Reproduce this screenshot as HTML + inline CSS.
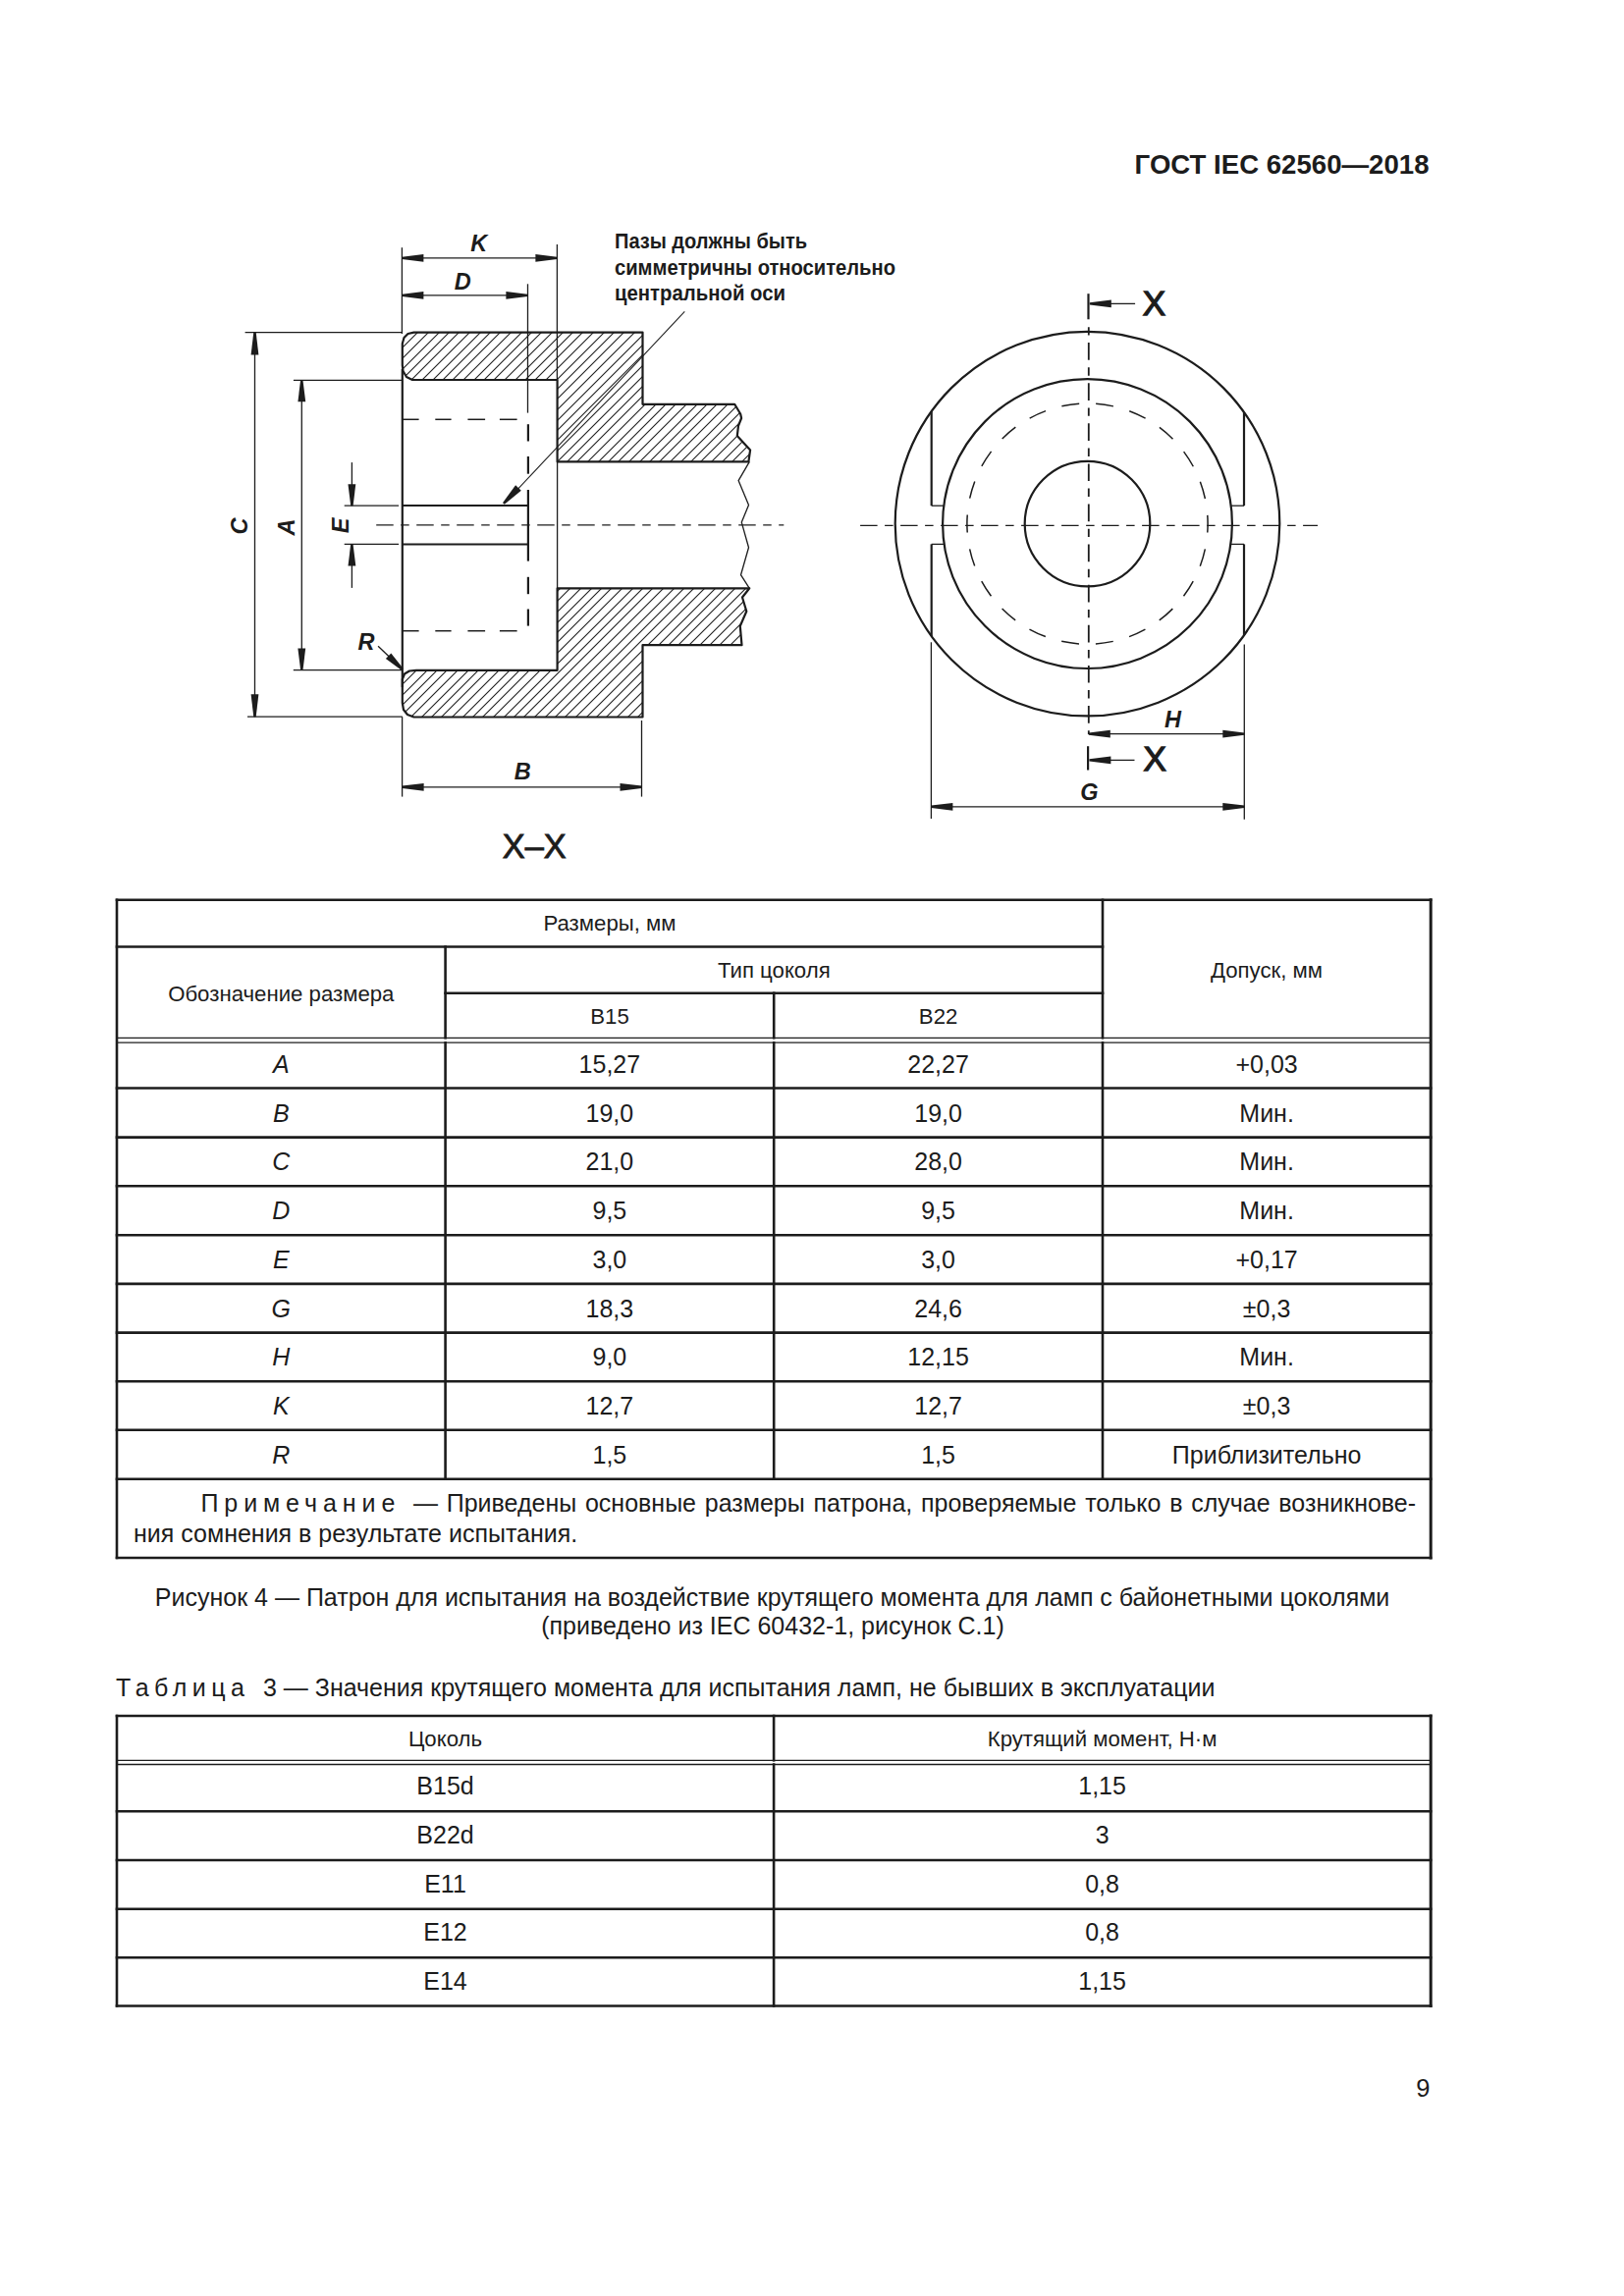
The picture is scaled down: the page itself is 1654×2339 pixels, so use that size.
<!DOCTYPE html>
<html><head><meta charset="utf-8"><style>
html,body{margin:0;padding:0;background:#fff;overflow:hidden;}
svg{display:block;}
text{font-family:"Liberation Sans",sans-serif;fill:#1c1c1c;}
.b{font-weight:bold;}
</style></head><body>
<svg width="1654" height="2339" viewBox="0 0 1654 2339">
<rect width="1654" height="2339" fill="#fff"/>
<text x="1455.5" y="176.8" text-anchor="end" class="b" font-size="27.6">ГОСТ IEC 62560—2018</text>
<text x="1456.5" y="2136" text-anchor="end" font-size="25.5">9</text>
<g stroke="#1c1c1c" stroke-linecap="square">
<line x1="119" y1="916.8" x2="1457.2" y2="916.8" stroke-width="2.6"/>
<line x1="119" y1="964.5" x2="1123" y2="964.5" stroke-width="2.6"/>
<line x1="453.6" y1="1011.7" x2="1123" y2="1011.7" stroke-width="2.6"/>
<line x1="119" y1="1057.3" x2="1457.2" y2="1057.3" stroke-width="1.3"/>
<line x1="119" y1="1062.2" x2="1457.2" y2="1062.2" stroke-width="1.3"/>
<line x1="119" y1="1108.5" x2="1457.2" y2="1108.5" stroke-width="2.6"/>
<line x1="119" y1="1158.6" x2="1457.2" y2="1158.6" stroke-width="2.6"/>
<line x1="119" y1="1208.3" x2="1457.2" y2="1208.3" stroke-width="2.6"/>
<line x1="119" y1="1258.2" x2="1457.2" y2="1258.2" stroke-width="2.6"/>
<line x1="119" y1="1307.9" x2="1457.2" y2="1307.9" stroke-width="2.6"/>
<line x1="119" y1="1357.6" x2="1457.2" y2="1357.6" stroke-width="2.6"/>
<line x1="119" y1="1407.2" x2="1457.2" y2="1407.2" stroke-width="2.6"/>
<line x1="119" y1="1456.8" x2="1457.2" y2="1456.8" stroke-width="2.6"/>
<line x1="119" y1="1506.7" x2="1457.2" y2="1506.7" stroke-width="2.6"/>
<line x1="119" y1="1587" x2="1457.2" y2="1587" stroke-width="2.6"/>
<line x1="119" y1="916.8" x2="119" y2="1587" stroke-width="2.6"/>
<line x1="1457.2" y1="916.8" x2="1457.2" y2="1587" stroke-width="3"/>
<line x1="453.6" y1="964.5" x2="453.6" y2="1057.3" stroke-width="2.6"/>
<line x1="788.2" y1="1011.7" x2="788.2" y2="1057.3" stroke-width="2.6"/>
<line x1="1123" y1="916.8" x2="1123" y2="1057.3" stroke-width="2.6"/>
<line x1="453.6" y1="1062.2" x2="453.6" y2="1506.7" stroke-width="2.6"/>
<line x1="788.2" y1="1062.2" x2="788.2" y2="1506.7" stroke-width="2.6"/>
<line x1="1123" y1="1062.2" x2="1123" y2="1506.7" stroke-width="2.6"/>
</g>
<text x="621" y="947.8" text-anchor="middle" font-size="22.2">Размеры, мм</text>
<text x="286.3" y="1020" text-anchor="middle" font-size="22.2">Обозначение размера</text>
<text x="788.3" y="996" text-anchor="middle" font-size="22.2">Тип цоколя</text>
<text x="621" y="1042.9" text-anchor="middle" font-size="22.2">B15</text>
<text x="955.6" y="1042.9" text-anchor="middle" font-size="22.2">B22</text>
<text x="1290" y="996" text-anchor="middle" font-size="22.2">Допуск, мм</text>
<text x="286.3" y="1092.7" text-anchor="middle" font-size="25" font-style="italic">A</text>
<text x="620.9000000000001" y="1092.7" text-anchor="middle" font-size="25">15,27</text>
<text x="955.6" y="1092.7" text-anchor="middle" font-size="25">22,27</text>
<text x="1290.1" y="1092.7" text-anchor="middle" font-size="25">+0,03</text>
<text x="286.3" y="1142.5" text-anchor="middle" font-size="25" font-style="italic">B</text>
<text x="620.9000000000001" y="1142.5" text-anchor="middle" font-size="25">19,0</text>
<text x="955.6" y="1142.5" text-anchor="middle" font-size="25">19,0</text>
<text x="1290.1" y="1142.5" text-anchor="middle" font-size="25">Мин.</text>
<text x="286.3" y="1192.2" text-anchor="middle" font-size="25" font-style="italic">C</text>
<text x="620.9000000000001" y="1192.2" text-anchor="middle" font-size="25">21,0</text>
<text x="955.6" y="1192.2" text-anchor="middle" font-size="25">28,0</text>
<text x="1290.1" y="1192.2" text-anchor="middle" font-size="25">Мин.</text>
<text x="286.3" y="1242.0" text-anchor="middle" font-size="25" font-style="italic">D</text>
<text x="620.9000000000001" y="1242.0" text-anchor="middle" font-size="25">9,5</text>
<text x="955.6" y="1242.0" text-anchor="middle" font-size="25">9,5</text>
<text x="1290.1" y="1242.0" text-anchor="middle" font-size="25">Мин.</text>
<text x="286.3" y="1291.7" text-anchor="middle" font-size="25" font-style="italic">E</text>
<text x="620.9000000000001" y="1291.7" text-anchor="middle" font-size="25">3,0</text>
<text x="955.6" y="1291.7" text-anchor="middle" font-size="25">3,0</text>
<text x="1290.1" y="1291.7" text-anchor="middle" font-size="25">+0,17</text>
<text x="286.3" y="1341.5" text-anchor="middle" font-size="25" font-style="italic">G</text>
<text x="620.9000000000001" y="1341.5" text-anchor="middle" font-size="25">18,3</text>
<text x="955.6" y="1341.5" text-anchor="middle" font-size="25">24,6</text>
<text x="1290.1" y="1341.5" text-anchor="middle" font-size="25">±0,3</text>
<text x="286.3" y="1391.2" text-anchor="middle" font-size="25" font-style="italic">H</text>
<text x="620.9000000000001" y="1391.2" text-anchor="middle" font-size="25">9,0</text>
<text x="955.6" y="1391.2" text-anchor="middle" font-size="25">12,15</text>
<text x="1290.1" y="1391.2" text-anchor="middle" font-size="25">Мин.</text>
<text x="286.3" y="1441.0" text-anchor="middle" font-size="25" font-style="italic">K</text>
<text x="620.9000000000001" y="1441.0" text-anchor="middle" font-size="25">12,7</text>
<text x="955.6" y="1441.0" text-anchor="middle" font-size="25">12,7</text>
<text x="1290.1" y="1441.0" text-anchor="middle" font-size="25">±0,3</text>
<text x="286.3" y="1490.7" text-anchor="middle" font-size="25" font-style="italic">R</text>
<text x="620.9000000000001" y="1490.7" text-anchor="middle" font-size="25">1,5</text>
<text x="955.6" y="1490.7" text-anchor="middle" font-size="25">1,5</text>
<text x="1290.1" y="1490.7" text-anchor="middle" font-size="25">Приблизительно</text>
<text x="204.5" y="1540" font-size="25" letter-spacing="5.9">Примечание</text>
<text x="421" y="1540" font-size="25" word-spacing="1.8">— Приведены основные размеры патрона, проверяемые только в случае возникнове-</text>
<text x="136" y="1570.7" font-size="25">ния сомнения в результате испытания.</text>
<text x="786.6" y="1635.5" text-anchor="middle" font-size="25">Рисунок 4 — Патрон для испытания на воздействие крутящего момента для ламп с байонетными цоколями</text>
<text x="787" y="1665" text-anchor="middle" font-size="25">(приведено из IEC 60432-1, рисунок С.1)</text>
<text x="118" y="1727.6" font-size="25" letter-spacing="5.5">Таблица</text>
<text x="268" y="1727.6" font-size="25">3 — Значения крутящего момента для испытания ламп, не бывших в эксплуатации</text>
<g stroke="#1c1c1c" stroke-linecap="square">
<line x1="119" y1="1748" x2="1457.2" y2="1748" stroke-width="2.6"/>
<line x1="119" y1="1793.3" x2="1457.2" y2="1793.3" stroke-width="1.3"/>
<line x1="119" y1="1797.5" x2="1457.2" y2="1797.5" stroke-width="1.3"/>
<line x1="119" y1="1845.3" x2="1457.2" y2="1845.3" stroke-width="2.6"/>
<line x1="119" y1="1895" x2="1457.2" y2="1895" stroke-width="2.6"/>
<line x1="119" y1="1944.7" x2="1457.2" y2="1944.7" stroke-width="2.6"/>
<line x1="119" y1="1994.3" x2="1457.2" y2="1994.3" stroke-width="2.6"/>
<line x1="119" y1="2043.5" x2="1457.2" y2="2043.5" stroke-width="2.6"/>
<line x1="119" y1="1748" x2="119" y2="2043.5" stroke-width="2.6"/>
<line x1="1457.2" y1="1748" x2="1457.2" y2="2043.5" stroke-width="3"/>
<line x1="788.1" y1="1748" x2="788.1" y2="1793.3" stroke-width="2.6"/>
<line x1="788.1" y1="1797.5" x2="788.1" y2="2043.5" stroke-width="2.6"/>
</g>
<text x="453.5" y="1778.6" text-anchor="middle" font-size="22.2">Цоколь</text>
<text x="1122.6" y="1778.6" text-anchor="middle" font-size="22.2">Крутящий момент, Н·м</text>
<text x="453.5" y="1828.4" text-anchor="middle" font-size="25">B15d</text>
<text x="1122.6" y="1828.4" text-anchor="middle" font-size="25">1,15</text>
<text x="453.5" y="1878.0" text-anchor="middle" font-size="25">B22d</text>
<text x="1122.6" y="1878.0" text-anchor="middle" font-size="25">3</text>
<text x="453.5" y="1927.6" text-anchor="middle" font-size="25">E11</text>
<text x="1122.6" y="1927.6" text-anchor="middle" font-size="25">0,8</text>
<text x="453.5" y="1977.2" text-anchor="middle" font-size="25">E12</text>
<text x="1122.6" y="1977.2" text-anchor="middle" font-size="25">0,8</text>
<text x="453.5" y="2026.8" text-anchor="middle" font-size="25">E14</text>
<text x="1122.6" y="2026.8" text-anchor="middle" font-size="25">1,15</text>
<defs><clipPath id="cu"><path d="M421.5,338.6 L654.5,338.6 L654.5,411.8 L748.2,411.8 L754.2,421.7 L755.1,426.0 L752.0,433.8 L750.8,444.1 L764.1,458.4 L763.3,464.0 L762.4,470.4 L567.6,470.4 L567.6,387.0 L420.0,387.0 L414.0,384.0 L410.5,378.0 L409.8,372.0 L409.8,350.0 L411.5,344.0 L415.5,340.0 Z"/></clipPath><clipPath id="cl"><path d="M424.0,682.8 L567.6,682.8 L567.6,599.3 L763.3,599.3 L756.0,608.5 L760.3,622.8 L753.8,637.8 L755.5,657.2 L654.5,657.2 L654.5,730.5 L421.5,730.5 L415.0,728.0 L411.0,723.0 L409.8,716.0 L409.8,692.0 L412.0,686.5 L417.0,683.5 Z"/></clipPath></defs>
<g clip-path="url(#cu)" stroke="#1c1c1c" stroke-width="1.1"><line x1="441.0" y1="250.0" x2="-109.0" y2="800.0" stroke-width="1.1" /><line x1="452.0" y1="250.0" x2="-98.0" y2="800.0" stroke-width="1.1" /><line x1="462.0" y1="250.0" x2="-88.0" y2="800.0" stroke-width="1.1" /><line x1="472.0" y1="250.0" x2="-78.0" y2="800.0" stroke-width="1.1" /><line x1="483.0" y1="250.0" x2="-67.0" y2="800.0" stroke-width="1.1" /><line x1="494.0" y1="250.0" x2="-56.0" y2="800.0" stroke-width="1.1" /><line x1="504.0" y1="250.0" x2="-46.0" y2="800.0" stroke-width="1.1" /><line x1="514.0" y1="250.0" x2="-36.0" y2="800.0" stroke-width="1.1" /><line x1="525.0" y1="250.0" x2="-25.0" y2="800.0" stroke-width="1.1" /><line x1="536.0" y1="250.0" x2="-14.0" y2="800.0" stroke-width="1.1" /><line x1="546.0" y1="250.0" x2="-4.0" y2="800.0" stroke-width="1.1" /><line x1="556.0" y1="250.0" x2="6.0" y2="800.0" stroke-width="1.1" /><line x1="567.0" y1="250.0" x2="17.0" y2="800.0" stroke-width="1.1" /><line x1="578.0" y1="250.0" x2="28.0" y2="800.0" stroke-width="1.1" /><line x1="588.0" y1="250.0" x2="38.0" y2="800.0" stroke-width="1.1" /><line x1="598.0" y1="250.0" x2="48.0" y2="800.0" stroke-width="1.1" /><line x1="609.0" y1="250.0" x2="59.0" y2="800.0" stroke-width="1.1" /><line x1="620.0" y1="250.0" x2="70.0" y2="800.0" stroke-width="1.1" /><line x1="630.0" y1="250.0" x2="80.0" y2="800.0" stroke-width="1.1" /><line x1="640.0" y1="250.0" x2="90.0" y2="800.0" stroke-width="1.1" /><line x1="651.0" y1="250.0" x2="101.0" y2="800.0" stroke-width="1.1" /><line x1="662.0" y1="250.0" x2="112.0" y2="800.0" stroke-width="1.1" /><line x1="672.0" y1="250.0" x2="122.0" y2="800.0" stroke-width="1.1" /><line x1="682.0" y1="250.0" x2="132.0" y2="800.0" stroke-width="1.1" /><line x1="693.0" y1="250.0" x2="143.0" y2="800.0" stroke-width="1.1" /><line x1="704.0" y1="250.0" x2="154.0" y2="800.0" stroke-width="1.1" /><line x1="714.0" y1="250.0" x2="164.0" y2="800.0" stroke-width="1.1" /><line x1="724.0" y1="250.0" x2="174.0" y2="800.0" stroke-width="1.1" /><line x1="735.0" y1="250.0" x2="185.0" y2="800.0" stroke-width="1.1" /><line x1="746.0" y1="250.0" x2="196.0" y2="800.0" stroke-width="1.1" /><line x1="756.0" y1="250.0" x2="206.0" y2="800.0" stroke-width="1.1" /><line x1="766.0" y1="250.0" x2="216.0" y2="800.0" stroke-width="1.1" /><line x1="777.0" y1="250.0" x2="227.0" y2="800.0" stroke-width="1.1" /><line x1="788.0" y1="250.0" x2="238.0" y2="800.0" stroke-width="1.1" /><line x1="798.0" y1="250.0" x2="248.0" y2="800.0" stroke-width="1.1" /><line x1="808.0" y1="250.0" x2="258.0" y2="800.0" stroke-width="1.1" /><line x1="819.0" y1="250.0" x2="269.0" y2="800.0" stroke-width="1.1" /><line x1="830.0" y1="250.0" x2="280.0" y2="800.0" stroke-width="1.1" /><line x1="840.0" y1="250.0" x2="290.0" y2="800.0" stroke-width="1.1" /><line x1="850.0" y1="250.0" x2="300.0" y2="800.0" stroke-width="1.1" /><line x1="861.0" y1="250.0" x2="311.0" y2="800.0" stroke-width="1.1" /><line x1="872.0" y1="250.0" x2="322.0" y2="800.0" stroke-width="1.1" /><line x1="882.0" y1="250.0" x2="332.0" y2="800.0" stroke-width="1.1" /><line x1="892.0" y1="250.0" x2="342.0" y2="800.0" stroke-width="1.1" /><line x1="903.0" y1="250.0" x2="353.0" y2="800.0" stroke-width="1.1" /><line x1="914.0" y1="250.0" x2="364.0" y2="800.0" stroke-width="1.1" /><line x1="924.0" y1="250.0" x2="374.0" y2="800.0" stroke-width="1.1" /><line x1="934.0" y1="250.0" x2="384.0" y2="800.0" stroke-width="1.1" /><line x1="945.0" y1="250.0" x2="395.0" y2="800.0" stroke-width="1.1" /><line x1="956.0" y1="250.0" x2="406.0" y2="800.0" stroke-width="1.1" /><line x1="966.0" y1="250.0" x2="416.0" y2="800.0" stroke-width="1.1" /><line x1="976.0" y1="250.0" x2="426.0" y2="800.0" stroke-width="1.1" /><line x1="987.0" y1="250.0" x2="437.0" y2="800.0" stroke-width="1.1" /><line x1="998.0" y1="250.0" x2="448.0" y2="800.0" stroke-width="1.1" /></g>
<g clip-path="url(#cl)" stroke="#1c1c1c" stroke-width="1.1"><line x1="826.0" y1="250.0" x2="276.0" y2="800.0" stroke-width="1.1" /><line x1="836.0" y1="250.0" x2="286.0" y2="800.0" stroke-width="1.1" /><line x1="846.0" y1="250.0" x2="296.0" y2="800.0" stroke-width="1.1" /><line x1="857.0" y1="250.0" x2="307.0" y2="800.0" stroke-width="1.1" /><line x1="868.0" y1="250.0" x2="318.0" y2="800.0" stroke-width="1.1" /><line x1="878.0" y1="250.0" x2="328.0" y2="800.0" stroke-width="1.1" /><line x1="888.0" y1="250.0" x2="338.0" y2="800.0" stroke-width="1.1" /><line x1="899.0" y1="250.0" x2="349.0" y2="800.0" stroke-width="1.1" /><line x1="910.0" y1="250.0" x2="360.0" y2="800.0" stroke-width="1.1" /><line x1="920.0" y1="250.0" x2="370.0" y2="800.0" stroke-width="1.1" /><line x1="930.0" y1="250.0" x2="380.0" y2="800.0" stroke-width="1.1" /><line x1="941.0" y1="250.0" x2="391.0" y2="800.0" stroke-width="1.1" /><line x1="952.0" y1="250.0" x2="402.0" y2="800.0" stroke-width="1.1" /><line x1="962.0" y1="250.0" x2="412.0" y2="800.0" stroke-width="1.1" /><line x1="972.0" y1="250.0" x2="422.0" y2="800.0" stroke-width="1.1" /><line x1="983.0" y1="250.0" x2="433.0" y2="800.0" stroke-width="1.1" /><line x1="994.0" y1="250.0" x2="444.0" y2="800.0" stroke-width="1.1" /><line x1="1004.0" y1="250.0" x2="454.0" y2="800.0" stroke-width="1.1" /><line x1="1014.0" y1="250.0" x2="464.0" y2="800.0" stroke-width="1.1" /><line x1="1025.0" y1="250.0" x2="475.0" y2="800.0" stroke-width="1.1" /><line x1="1036.0" y1="250.0" x2="486.0" y2="800.0" stroke-width="1.1" /><line x1="1046.0" y1="250.0" x2="496.0" y2="800.0" stroke-width="1.1" /><line x1="1056.0" y1="250.0" x2="506.0" y2="800.0" stroke-width="1.1" /><line x1="1067.0" y1="250.0" x2="517.0" y2="800.0" stroke-width="1.1" /><line x1="1078.0" y1="250.0" x2="528.0" y2="800.0" stroke-width="1.1" /><line x1="1088.0" y1="250.0" x2="538.0" y2="800.0" stroke-width="1.1" /><line x1="1098.0" y1="250.0" x2="548.0" y2="800.0" stroke-width="1.1" /><line x1="1109.0" y1="250.0" x2="559.0" y2="800.0" stroke-width="1.1" /><line x1="1120.0" y1="250.0" x2="570.0" y2="800.0" stroke-width="1.1" /><line x1="1130.0" y1="250.0" x2="580.0" y2="800.0" stroke-width="1.1" /><line x1="1140.0" y1="250.0" x2="590.0" y2="800.0" stroke-width="1.1" /><line x1="1151.0" y1="250.0" x2="601.0" y2="800.0" stroke-width="1.1" /><line x1="1162.0" y1="250.0" x2="612.0" y2="800.0" stroke-width="1.1" /><line x1="1172.0" y1="250.0" x2="622.0" y2="800.0" stroke-width="1.1" /><line x1="1182.0" y1="250.0" x2="632.0" y2="800.0" stroke-width="1.1" /><line x1="1193.0" y1="250.0" x2="643.0" y2="800.0" stroke-width="1.1" /><line x1="1204.0" y1="250.0" x2="654.0" y2="800.0" stroke-width="1.1" /><line x1="1214.0" y1="250.0" x2="664.0" y2="800.0" stroke-width="1.1" /><line x1="1224.0" y1="250.0" x2="674.0" y2="800.0" stroke-width="1.1" /><line x1="1235.0" y1="250.0" x2="685.0" y2="800.0" stroke-width="1.1" /><line x1="1246.0" y1="250.0" x2="696.0" y2="800.0" stroke-width="1.1" /></g>
<g stroke="#1c1c1c" fill="none" stroke-linecap="butt">
<path d="M421.5,338.6 L654.5,338.6 L654.5,411.8 L748.2,411.8 L754.2,421.7 L755.1,426.0 L752.0,433.8 L750.8,444.1 L764.1,458.4 L763.3,464.0 L762.4,470.4 L567.6,470.4 L567.6,387.0 L420.0,387.0 L414.0,384.0 L410.5,378.0 L409.8,372.0 L409.8,350.0 L411.5,344.0 L415.5,340.0 Z" stroke-width="2.2" fill="none" stroke-linejoin="round"/>
<path d="M424.0,682.8 L567.6,682.8 L567.6,599.3 L763.3,599.3 L756.0,608.5 L760.3,622.8 L753.8,637.8 L755.5,657.2 L654.5,657.2 L654.5,730.5 L421.5,730.5 L415.0,728.0 L411.0,723.0 L409.8,716.0 L409.8,692.0 L412.0,686.5 L417.0,683.5 Z" stroke-width="2.2" fill="none" stroke-linejoin="round"/>
<line x1="409.8" y1="376.0" x2="409.8" y2="700.0" stroke-width="2.2" />
<line x1="409.8" y1="515.0" x2="538.0" y2="515.0" stroke-width="2.2" />
<line x1="409.8" y1="554.5" x2="538.0" y2="554.5" stroke-width="2.2" />
<line x1="567.4" y1="249.0" x2="567.4" y2="387.0" stroke-width="1.3" />
<line x1="567.6" y1="470.4" x2="567.6" y2="599.3" stroke-width="1.3" />
<line x1="537.9" y1="432.2" x2="537.9" y2="449.5" stroke-width="2.2" />
<line x1="537.9" y1="465.0" x2="537.9" y2="482.7" stroke-width="2.2" />
<line x1="537.9" y1="499.0" x2="537.9" y2="571.6" stroke-width="2.2" />
<line x1="537.9" y1="587.8" x2="537.9" y2="605.2" stroke-width="2.2" />
<line x1="537.9" y1="620.5" x2="537.9" y2="637.6" stroke-width="2.2" />
<line x1="409.9" y1="427.3" x2="426.6" y2="427.3" stroke-width="1.5" />
<line x1="443.3" y1="427.3" x2="459.6" y2="427.3" stroke-width="1.5" />
<line x1="476.4" y1="427.3" x2="494.1" y2="427.3" stroke-width="1.5" />
<line x1="508.9" y1="427.3" x2="526.6" y2="427.3" stroke-width="1.5" />
<line x1="409.9" y1="642.7" x2="426.6" y2="642.7" stroke-width="1.5" />
<line x1="443.3" y1="642.7" x2="459.6" y2="642.7" stroke-width="1.5" />
<line x1="476.4" y1="642.7" x2="494.1" y2="642.7" stroke-width="1.5" />
<line x1="508.9" y1="642.7" x2="526.6" y2="642.7" stroke-width="1.5" />
<path d="M763.3,470.4 L752.1,489.6 L762.5,514.4 L755.3,532.1 L762.5,557.7 L754.5,585.7 L763.3,599.3" stroke-width="1.3" fill="none" stroke-linejoin="round"/>
<line x1="383.2" y1="534.8" x2="798.3" y2="534.8" stroke-width="1.3" stroke-dasharray="17.5 7.5 8.5 7.5"/>
<line x1="409.4" y1="252.2" x2="409.4" y2="340.0" stroke-width="1.3" />
<line x1="409.4" y1="262.9" x2="567.4" y2="262.9" stroke-width="1.3" />
<line x1="409.4" y1="300.9" x2="537.4" y2="300.9" stroke-width="1.3" />
<line x1="537.5" y1="289.3" x2="537.5" y2="420.6" stroke-width="1.3" />
<line x1="249.6" y1="338.6" x2="409.8" y2="338.6" stroke-width="1.3" />
<line x1="252.0" y1="730.2" x2="409.8" y2="730.2" stroke-width="1.3" />
<line x1="259.5" y1="338.6" x2="259.5" y2="730.2" stroke-width="1.3" />
<line x1="298.9" y1="387.3" x2="409.8" y2="387.3" stroke-width="1.3" />
<line x1="298.8" y1="682.6" x2="409.8" y2="682.6" stroke-width="1.3" />
<line x1="307.3" y1="387.3" x2="307.3" y2="682.6" stroke-width="1.3" />
<line x1="350.7" y1="515.2" x2="406.1" y2="515.2" stroke-width="1.3" />
<line x1="350.7" y1="554.4" x2="406.1" y2="554.4" stroke-width="1.3" />
<line x1="358.4" y1="471.1" x2="358.4" y2="515.2" stroke-width="1.3" />
<line x1="358.4" y1="554.4" x2="358.4" y2="598.9" stroke-width="1.3" />
<line x1="409.6" y1="730.2" x2="409.6" y2="811.6" stroke-width="1.3" />
<line x1="653.5" y1="734.0" x2="653.5" y2="811.6" stroke-width="1.3" />
<line x1="409.6" y1="801.8" x2="653.5" y2="801.8" stroke-width="1.3" />
<line x1="697.3" y1="317.3" x2="527.3" y2="498.3" stroke-width="1.05" />
<line x1="385.1" y1="658.2" x2="400.0" y2="672.5" stroke-width="1.3" />
</g>
<path d="M409.4,261.7 L431.4,259.0 L431.4,266.8 L409.4,264.1 Z" fill="#1c1c1c" stroke="none"/>
<path d="M567.4,264.1 L545.4,266.8 L545.4,259.0 L567.4,261.7 Z" fill="#1c1c1c" stroke="none"/>
<path d="M409.4,299.7 L431.4,297.0 L431.4,304.8 L409.4,302.1 Z" fill="#1c1c1c" stroke="none"/>
<path d="M537.4,302.1 L515.4,304.8 L515.4,297.0 L537.4,299.7 Z" fill="#1c1c1c" stroke="none"/>
<path d="M260.7,338.6 L263.4,361.6 L255.6,361.6 L258.3,338.6 Z" fill="#1c1c1c" stroke="none"/>
<path d="M258.3,730.2 L255.6,707.2 L263.4,707.2 L260.7,730.2 Z" fill="#1c1c1c" stroke="none"/>
<path d="M308.5,387.3 L311.2,409.3 L303.4,409.3 L306.1,387.3 Z" fill="#1c1c1c" stroke="none"/>
<path d="M306.1,682.6 L303.4,660.6 L311.2,660.6 L308.5,682.6 Z" fill="#1c1c1c" stroke="none"/>
<path d="M357.2,515.2 L354.5,493.2 L362.3,493.2 L359.6,515.2 Z" fill="#1c1c1c" stroke="none"/>
<path d="M359.6,554.4 L362.3,576.4 L354.5,576.4 L357.2,554.4 Z" fill="#1c1c1c" stroke="none"/>
<path d="M409.6,800.6 L431.6,797.9 L431.6,805.7 L409.6,803.0 Z" fill="#1c1c1c" stroke="none"/>
<path d="M653.5,803.0 L631.5,805.7 L631.5,797.9 L653.5,800.6 Z" fill="#1c1c1c" stroke="none"/>
<path d="M512.0,512.2 L525.1,494.3 L530.8,499.7 L513.8,513.8 Z" fill="#1c1c1c" stroke="none"/>
<path d="M409.2,683.1 L392.9,671.1 L398.3,665.5 L410.8,681.3 Z" fill="#1c1c1c" stroke="none"/>
<g stroke="#1c1c1c" fill="none">
<circle cx="1107.5" cy="533.6" r="195.8" stroke-width="2.2"/>
<circle cx="1107.5" cy="533.6" r="147.4" stroke-width="2.2"/>
<circle cx="1107.5" cy="533.6" r="122.6" stroke-width="1.5" stroke-dasharray="18.00 17.01" stroke-dashoffset="9.00"/>
<circle cx="1107.5" cy="533.6" r="63.8" stroke-width="2.2"/>
<line x1="948.7" y1="419.1" x2="948.7" y2="515.2" stroke-width="2.2" />
<line x1="948.7" y1="554.4" x2="948.7" y2="648.1" stroke-width="2.2" />
<line x1="948.7" y1="515.2" x2="961.4" y2="515.2" stroke-width="1.3" />
<line x1="948.7" y1="554.4" x2="961.4" y2="554.4" stroke-width="1.3" />
<line x1="1267.0" y1="420.0" x2="1267.0" y2="515.2" stroke-width="2.2" />
<line x1="1267.0" y1="554.4" x2="1267.0" y2="647.2" stroke-width="2.2" />
<line x1="1267.0" y1="515.2" x2="1253.6" y2="515.2" stroke-width="1.3" />
<line x1="1267.0" y1="554.4" x2="1253.6" y2="554.4" stroke-width="1.3" />
<line x1="876.1" y1="535.3" x2="1342.0" y2="535.3" stroke-width="1.3" stroke-dasharray="17.5 7.5 8.5 7.5"/>
<line x1="1108.8" y1="333.2" x2="1108.8" y2="748.0" stroke-width="1.8" stroke-dasharray="8.4 7.5 17.7 7.5"/>
<line x1="1108.5" y1="299.2" x2="1108.5" y2="325.3" stroke-width="2.2" />
<line x1="1131.0" y1="309.4" x2="1156.1" y2="309.4" stroke-width="1.3" />
<line x1="1108.1" y1="760.2" x2="1108.1" y2="784.5" stroke-width="2.2" />
<line x1="1131.0" y1="774.4" x2="1155.5" y2="774.4" stroke-width="1.3" />
<line x1="1267.3" y1="656.5" x2="1267.3" y2="834.7" stroke-width="1.3" />
<line x1="948.4" y1="654.3" x2="948.4" y2="834.0" stroke-width="1.3" />
<line x1="1108.8" y1="747.6" x2="1267.3" y2="747.6" stroke-width="1.3" />
<line x1="948.4" y1="821.8" x2="1267.3" y2="821.8" stroke-width="1.3" />
</g>
<path d="M1109.8,308.2 L1131.8,305.5 L1131.8,313.3 L1109.8,310.6 Z" fill="#1c1c1c" stroke="none"/>
<path d="M1109.4,773.2 L1131.4,770.5 L1131.4,778.3 L1109.4,775.6 Z" fill="#1c1c1c" stroke="none"/>
<path d="M1108.8,746.4 L1130.8,743.7 L1130.8,751.5 L1108.8,748.8 Z" fill="#1c1c1c" stroke="none"/>
<path d="M1267.3,748.8 L1245.3,751.5 L1245.3,743.7 L1267.3,746.4 Z" fill="#1c1c1c" stroke="none"/>
<path d="M948.4,820.6 L970.4,817.9 L970.4,825.7 L948.4,823.0 Z" fill="#1c1c1c" stroke="none"/>
<path d="M1267.3,823.0 L1245.3,825.7 L1245.3,817.9 L1267.3,820.6 Z" fill="#1c1c1c" stroke="none"/>
<text x="487.8" y="256" text-anchor="middle" font-weight="bold" font-style="italic" font-size="23.5">K</text>
<text x="471.2" y="294.8" text-anchor="middle" font-weight="bold" font-style="italic" font-size="23.5">D</text>
<text x="532.2" y="793.9" text-anchor="middle" font-weight="bold" font-style="italic" font-size="23.5">B</text>
<text x="373.1" y="661.9" text-anchor="middle" font-weight="bold" font-style="italic" font-size="23.5">R</text>
<text x="1194.5" y="741.2" text-anchor="middle" font-weight="bold" font-style="italic" font-size="23.5">H</text>
<text x="1109.5" y="815" text-anchor="middle" font-weight="bold" font-style="italic" font-size="23.5">G</text>
<text transform="translate(252,536) rotate(-90)" text-anchor="middle" font-weight="bold" font-style="italic" font-size="23.5">C</text>
<text transform="translate(300,537) rotate(-90)" text-anchor="middle" font-weight="bold" font-style="italic" font-size="23.5">A</text>
<text transform="translate(355.1,535.4) rotate(-90)" text-anchor="middle" font-weight="bold" font-style="italic" font-size="23.5">E</text>
<text x="1175.5" y="320.9" text-anchor="middle" font-size="35" stroke="#1c1c1c" stroke-width="1.3">X</text>
<text x="1176.2" y="784.5" text-anchor="middle" font-size="35" stroke="#1c1c1c" stroke-width="1.3">X</text>
<text x="544.2" y="873.7" text-anchor="middle" font-size="34.3" stroke="#1c1c1c" stroke-width="0.9">X–X</text>
<text x="626" y="252.8" font-weight="bold" font-size="22.6" textLength="196" lengthAdjust="spacingAndGlyphs">Пазы должны быть</text>
<text x="626" y="279.6" font-weight="bold" font-size="22.6" textLength="286" lengthAdjust="spacingAndGlyphs">симметричны относительно</text>
<text x="626" y="305.9" font-weight="bold" font-size="22.6" textLength="174" lengthAdjust="spacingAndGlyphs">центральной оси</text>
</svg>
</body></html>
